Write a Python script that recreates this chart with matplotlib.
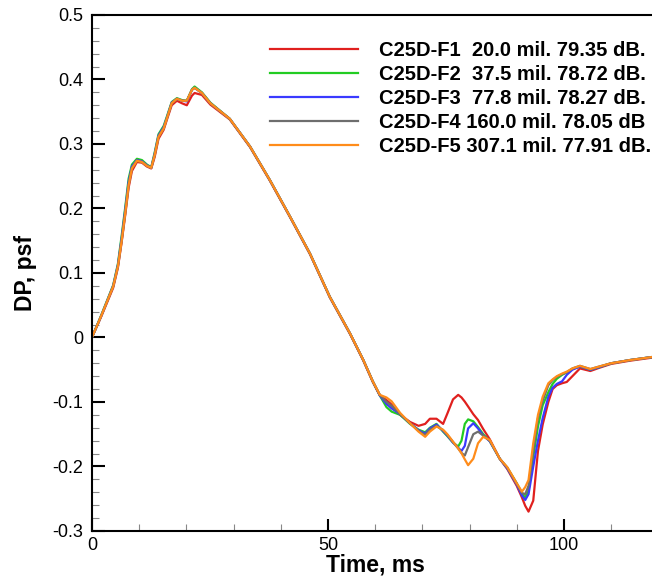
import matplotlib
matplotlib.use("Agg")
import matplotlib.pyplot as plt
from matplotlib.ticker import MultipleLocator, FuncFormatter

plt.rcParams['font.family'] = ['Liberation Sans', 'DejaVu Sans']

# time, ms
t = [0, 2.0, 4.5, 5.5, 6.3, 7.06, 7.77, 8.47, 9.53, 10.6, 11.65, 12.57,
     13.3, 14.1, 15.2, 15.9, 16.9, 18.0, 19.1, 20.1, 21.2, 21.75, 23.3, 25.1,
     29.2, 33.5, 37.7, 42.0, 46.2, 50.4, 54.7, 57.5, 59.5, 61.0,
     62.4, 63.5, 65.3, 67.4, 69.2, 70.6, 71.6, 73.0, 74.4, 75.3,
     76.5, 77.6, 78.3, 79.0, 79.7, 80.8, 81.8, 82.9, 84.3, 86.4,
     88.0, 90.0, 91.1, 91.8, 92.5, 93.5, 94.5, 95.5, 96.7, 97.6,
     98.5, 99.6, 100.6, 101.8, 103.4, 105.6, 107.5, 110.0, 114.0, 120.0]

# DP, psf
f1 = [0, 0.033, 0.077, 0.108, 0.148, 0.190, 0.232, 0.258, 0.272, 0.271, 0.265, 0.262,
      0.280, 0.308, 0.322, 0.338, 0.360, 0.367, 0.363, 0.360, 0.375, 0.379, 0.376, 0.361,
      0.338, 0.295, 0.243, 0.186, 0.129, 0.062, 0.005, -0.036, -0.069, -0.090,
      -0.097, -0.104, -0.120, -0.131, -0.137, -0.134, -0.126, -0.126, -0.134, -0.118,
      -0.096, -0.089, -0.093, -0.0995, -0.107, -0.119, -0.128, -0.142, -0.158, -0.188,
      -0.204, -0.230, -0.248, -0.261, -0.270, -0.253, -0.176, -0.135, -0.100, -0.080,
      -0.074, -0.071, -0.069, -0.060, -0.048, -0.052, -0.047, -0.041, -0.036, -0.030]

f2 = [0, 0.035, 0.081, 0.114, 0.158, 0.202, 0.246, 0.268, 0.277, 0.275, 0.268, 0.264,
      0.287, 0.315, 0.328, 0.343, 0.365, 0.371, 0.368, 0.367, 0.385, 0.389, 0.380, 0.364,
      0.339, 0.296, 0.244, 0.187, 0.130, 0.063, 0.006, -0.035, -0.068, -0.090,
      -0.108, -0.115, -0.120, -0.134, -0.143, -0.147, -0.140, -0.134, -0.146, -0.153,
      -0.163, -0.169, -0.160, -0.134, -0.127, -0.130, -0.139, -0.150, -0.161, -0.188,
      -0.202, -0.226, -0.242, -0.248, -0.238, -0.185, -0.138, -0.105, -0.085, -0.072,
      -0.064, -0.058, -0.054, -0.049, -0.045, -0.050, -0.046, -0.040, -0.035, -0.029]

f3 = [0, 0.034, 0.080, 0.112, 0.154, 0.198, 0.241, 0.265, 0.275, 0.273, 0.267, 0.263,
      0.285, 0.313, 0.326, 0.341, 0.364, 0.370, 0.367, 0.366, 0.384, 0.387, 0.379, 0.363,
      0.339, 0.296, 0.244, 0.187, 0.130, 0.063, 0.006, -0.035, -0.068, -0.090,
      -0.103, -0.110, -0.119, -0.133, -0.144, -0.149, -0.141, -0.135, -0.145, -0.152,
      -0.163, -0.171, -0.176, -0.168, -0.141, -0.133, -0.141, -0.152, -0.161, -0.188,
      -0.203, -0.228, -0.245, -0.252, -0.243, -0.200, -0.160, -0.125, -0.092, -0.078,
      -0.072, -0.068, -0.058, -0.050, -0.045, -0.050, -0.046, -0.040, -0.035, -0.029]

f4 = [0, 0.034, 0.079, 0.110, 0.150, 0.193, 0.236, 0.262, 0.274, 0.272, 0.266, 0.263,
      0.283, 0.311, 0.324, 0.340, 0.363, 0.370, 0.367, 0.367, 0.384, 0.387, 0.379, 0.363,
      0.339, 0.296, 0.244, 0.187, 0.130, 0.063, 0.006, -0.035, -0.068, -0.089,
      -0.100, -0.106, -0.119, -0.133, -0.145, -0.151, -0.143, -0.137, -0.144, -0.151,
      -0.162, -0.172, -0.179, -0.183, -0.170, -0.150, -0.146, -0.152, -0.160, -0.188,
      -0.202, -0.227, -0.241, -0.243, -0.230, -0.175, -0.125, -0.098, -0.074, -0.066,
      -0.061, -0.057, -0.054, -0.048, -0.044, -0.049, -0.045, -0.040, -0.035, -0.029]

f5 = [0, 0.034, 0.079, 0.110, 0.150, 0.193, 0.236, 0.262, 0.274, 0.272, 0.266, 0.263,
      0.283, 0.311, 0.324, 0.340, 0.363, 0.370, 0.367, 0.367, 0.384, 0.387, 0.379, 0.363,
      0.339, 0.296, 0.244, 0.187, 0.130, 0.063, 0.006, -0.035, -0.068, -0.089,
      -0.093, -0.099, -0.117, -0.133, -0.146, -0.154, -0.146, -0.138, -0.143, -0.150,
      -0.1615, -0.172, -0.1795, -0.189, -0.198, -0.188, -0.164, -0.154, -0.159, -0.188,
      -0.201, -0.226, -0.239, -0.232, -0.221, -0.164, -0.120, -0.092, -0.071, -0.065,
      -0.060, -0.056, -0.053, -0.048, -0.044, -0.049, -0.045, -0.040, -0.035, -0.029]

labels = ["C25D-F1  20.0 mil. 79.35 dB.",
          "C25D-F2  37.5 mil. 78.72 dB.",
          "C25D-F3  77.8 mil. 78.27 dB.",
          "C25D-F4 160.0 mil. 78.05 dB",
          "C25D-F5 307.1 mil. 77.91 dB."]
colors = ["#e0201e", "#22cc22", "#3a3aff", "#6e6e6e", "#ff8c1a"]

fig = plt.figure(figsize=(6.52, 5.84), dpi=100)
ax = fig.add_axes([0.141, 0.0908, 0.8687, 0.8836])

for y, c, lab in zip([f1, f2, f3, f4, f5], colors, labels):
    ax.plot(t, y, color=c, lw=1.6, label=lab, solid_joinstyle='round')

ax.set_xlim(0, 120)
ax.set_ylim(-0.3, 0.5)
ax.xaxis.set_major_locator(MultipleLocator(50))
ax.xaxis.set_minor_locator(MultipleLocator(10))
ax.yaxis.set_major_locator(MultipleLocator(0.1))
ax.yaxis.set_minor_locator(MultipleLocator(0.02))
ax.yaxis.set_major_formatter(FuncFormatter(lambda v, p: "%g" % round(v, 2)))
ax.tick_params(which='major', direction='in', length=9, width=1.5, labelsize=13)
ax.tick_params(which='minor', direction='in', length=5, width=0.8, color='#888888')
ax.tick_params(axis='y', which='major', pad=6.5)
ax.tick_params(axis='x', which='major', pad=4)
for s in ax.spines.values():
    s.set_linewidth(1.5)

ax.set_xlabel("Time, ms", fontsize=16.5, fontweight='bold', labelpad=0)
ax.set_ylabel("DP, psf", fontsize=16.5, fontweight='bold', labelpad=11)

ax.legend(loc='upper left', bbox_to_anchor=(0.314, 0.949), frameon=False,
          prop={'weight': 'bold', 'size': 14.5}, handlelength=4.4, handletextpad=1.0,
          labelspacing=0.25, borderaxespad=0, borderpad=0)

fig.savefig("out.png", dpi=100)
